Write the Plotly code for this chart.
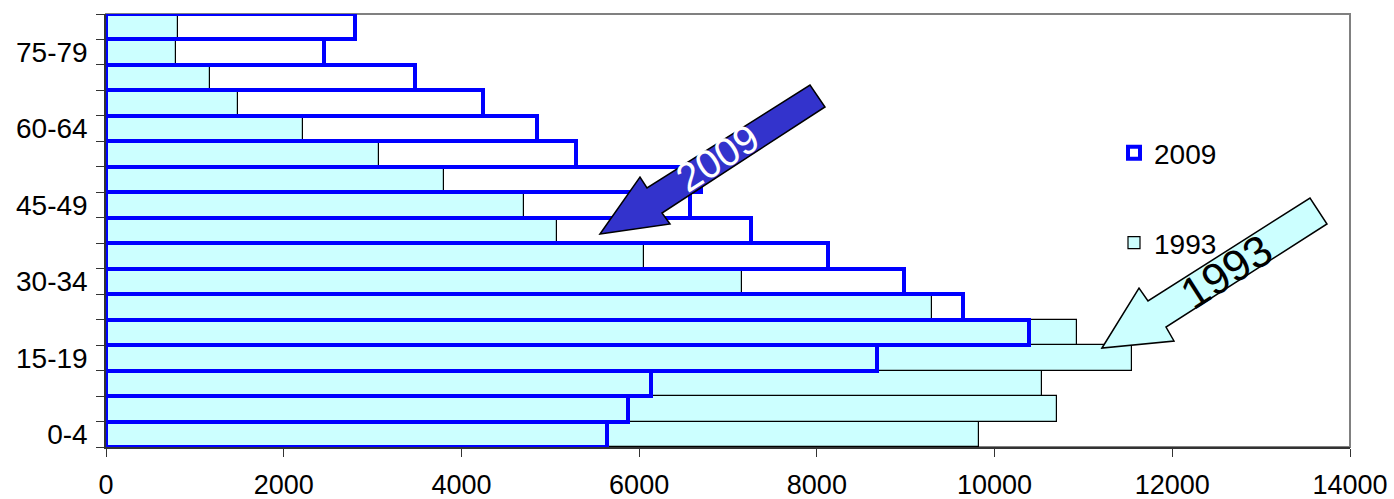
import plotly.graph_objects as go

# ---- data ----
age_groups = ["0-4", "5-9", "10-14", "15-19", "20-24", "25-29", "30-34", "35-39",
              "40-44", "45-49", "50-54", "55-59", "60-64", "65-69", "70-74", "75-79", "80+"]
pop_1993 = [9820, 10700, 10530, 11550, 10930, 9300, 7160, 6050,
            5080, 4700, 3800, 3070, 2215, 1490, 1165, 790, 815]
pop_2009 = [5640, 5875, 6135, 8680, 10385, 9650, 8980, 8120,
            7260, 6570, 6700, 5290, 4855, 4245, 3480, 2455, 2805]
shown_labels = ["0-4", "15-19", "30-34", "45-49", "60-64", "75-79"]
x_ticks = [0, 2000, 4000, 6000, 8000, 10000, 12000, 14000]

# ---- layout geometry (pixels) ----
W, H = 1394, 499
ML, MR, MT, MB = 106, 44, 14, 52
PW, PH = W - ML - MR, H - MT - MB


def px(x, y):
    return (x - ML) / PW, (H - MB - y) / PH


def path(points):
    pts = [px(x, y) for x, y in points]
    return "M" + " L".join(f"{a:.5f},{b:.5f}" for a, b in pts) + " Z"


FONT = "Liberation Sans, Arial, sans-serif"

fig = go.Figure()
fig.add_trace(go.Bar(
    y=age_groups, x=pop_1993, orientation="h", name="1993",
    marker=dict(color="#CCFFFF", line=dict(color="black", width=1.2)),
    legend="legend2", showlegend=True,
))
fig.add_trace(go.Bar(
    y=age_groups, x=pop_2009, orientation="h", name="2009",
    marker=dict(color="rgba(0,0,0,0)", line=dict(color="#0000FF", width=4)),
    legend="legend", showlegend=True,
))

# arrows
arrow_2009 = [(600, 234), (640, 177), (647, 188), (810, 85), (825, 107),
              (662, 213), (670, 224)]
arrow_1993 = [(1102, 348), (1139, 288), (1148, 301), (1310, 198), (1327, 224),
              (1166, 327), (1174, 341)]
shapes = [
    dict(type="rect", xref="paper", yref="paper", x0=0, y0=0, x1=1, y1=1,
         line=dict(color="#808080", width=2), layer="below"),
    dict(type="path", xref="paper", yref="paper", path=path(arrow_2009),
         fillcolor="#3333CC", line=dict(color="black", width=1.5)),
    dict(type="path", xref="paper", yref="paper", path=path(arrow_1993),
         fillcolor="#CCFFFF", line=dict(color="black", width=1.5)),
]

ax, ay = px(717, 158)
bx, by = px(1226, 271)
annotations = [
    dict(text="2009", x=ax, y=ay, xref="paper", yref="paper", showarrow=False,
         textangle=-32.5, font=dict(family=FONT, size=40, color="white"),
         xanchor="center", yanchor="middle"),
    dict(text="1993", x=bx, y=by, xref="paper", yref="paper", showarrow=False,
         textangle=-32.5, font=dict(family=FONT, size=44, color="black"),
         xanchor="center", yanchor="middle"),
]

l1x, l1y = px(1114, 153)
l2x, l2y = px(1114, 243)

fig.update_layout(
    width=W, height=H,
    margin=dict(l=ML, r=MR, t=MT, b=MB, autoexpand=False),
    paper_bgcolor="white", plot_bgcolor="white",
    barmode="overlay", bargap=0, showlegend=True,
    font=dict(family=FONT, size=27, color="black"),
    shapes=shapes, annotations=annotations,
    legend=dict(x=l1x, y=l1y, xanchor="left", yanchor="middle",
                font=dict(size=28), bgcolor="rgba(0,0,0,0)"),
    legend2=dict(x=l2x, y=l2y, xanchor="left", yanchor="middle",
                 font=dict(size=28), bgcolor="rgba(0,0,0,0)"),
    xaxis=dict(range=[0, 14000], tickvals=x_ticks, tickformat="d", ticks="outside",
               ticklen=8, tickcolor="#333333", showline=True, linecolor="#333333",
               linewidth=1.5, showgrid=False, zeroline=False, tickfont=dict(size=27),
               ticklabelstandoff=5, automargin=False),
    yaxis=dict(type="category", categoryorder="array", categoryarray=age_groups,
               tickvals=age_groups,
               ticktext=[a if a in shown_labels else "" for a in age_groups],
               tickson="boundaries", ticks="outside", ticklen=8, tickcolor="#333333",
               showline=True, linecolor="#333333", linewidth=1.5,
               showgrid=False, zeroline=False, tickfont=dict(size=28),
               ticklabelstandoff=11,
               range=[-0.5, len(age_groups) - 0.5], automargin=False),
)

fig.write_html("out.html", config={"displayModeBar": False},
               post_script="document.body.style.margin='0';document.body.style.padding='0';")
